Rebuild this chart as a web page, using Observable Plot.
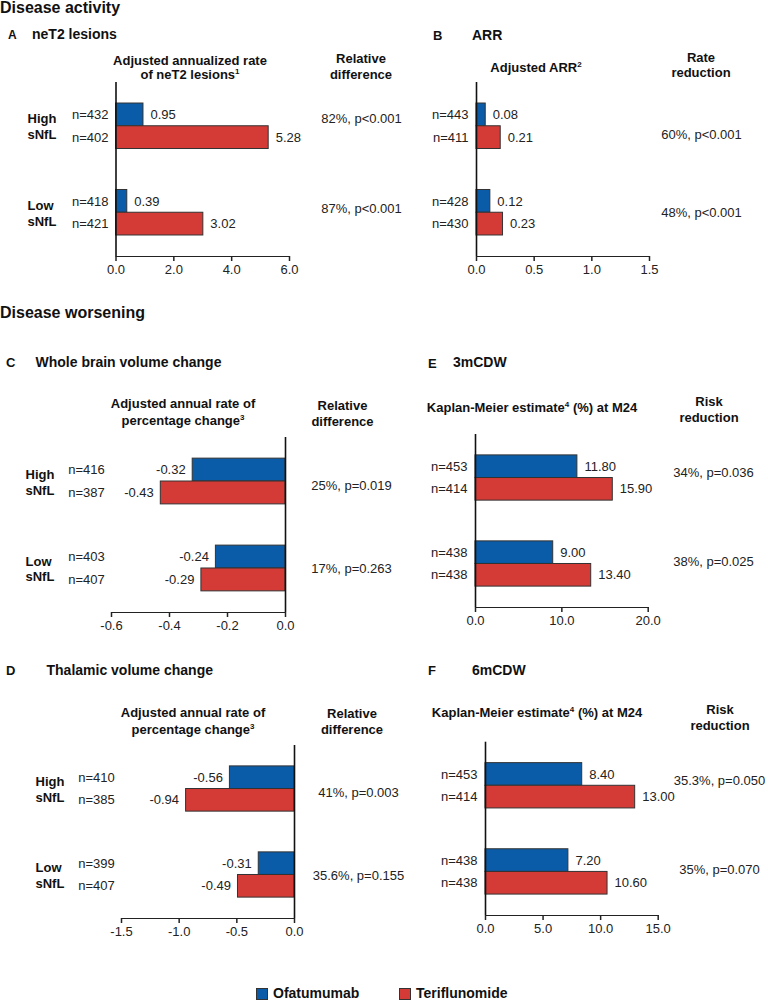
<!DOCTYPE html>
<html>
<head>
<meta charset="utf-8">
<script src="https://cdn.jsdelivr.net/npm/d3@7"></script>
<script src="https://cdn.jsdelivr.net/npm/@observablehq/plot@0.6"></script>
<style>
  html, body { margin: 0; padding: 0; background: #fff; }
  #root { position: relative; width: 768px; height: 1001px; overflow: hidden; font-family: "Liberation Sans", Arial, sans-serif; color: #111; }
  .lbl { position: absolute; white-space: nowrap; transform: translate(-50%, -50%); line-height: 1; }
  .lbl.left { transform: translate(0, -50%); }
  .pan { position: absolute; }
  sup { font-size: 8px; vertical-align: 0; position: relative; top: -5px; }
  svg g[aria-label*="x-axis"] path, svg g[aria-label*="x-axis"] line { stroke-width: 1.5px; }
</style>
</head>
<body>
<div id="root"></div>
<script>
// ---------- data ----------
const groups = ["High sNfL", "Low sNfL"];
const treatments = ["Ofatumumab", "Teriflunomide"];
const treatmentColors = ["#0a5ca8", "#d43a36"];

// A: neT2 lesions
const neT2Ofa = [0.95, 0.39];
const neT2Teri = [5.28, 3.02];
const neT2NOfa = [432, 418];
const neT2NTeri = [402, 421];
const neT2Stats = ["82%, p<0.001", "87%, p<0.001"];
const neT2Ticks = [0, 2, 4, 6];

// B: ARR
const arrOfa = [0.08, 0.12];
const arrTeri = [0.21, 0.23];
const arrNOfa = [443, 428];
const arrNTeri = [411, 430];
const arrStats = ["60%, p<0.001", "48%, p<0.001"];
const arrTicks = [0, 0.5, 1.0, 1.5];

// C: whole brain volume change
const wbOfa = [-0.32, -0.24];
const wbTeri = [-0.43, -0.29];
const wbNOfa = [416, 403];
const wbNTeri = [387, 407];
const wbStats = ["25%, p=0.019", "17%, p=0.263"];
const wbTicks = [-0.6, -0.4, -0.2, 0];

// E: 3mCDW
const cdw3Ofa = [11.80, 9.00];
const cdw3Teri = [15.90, 13.40];
const cdw3NOfa = [453, 438];
const cdw3NTeri = [414, 438];
const cdw3Stats = ["34%, p=0.036", "38%, p=0.025"];
const cdw3Ticks = [0, 10, 20];

// D: thalamic volume change
const thOfa = [-0.56, -0.31];
const thTeri = [-0.94, -0.49];
const thNOfa = [410, 399];
const thNTeri = [385, 407];
const thStats = ["41%, p=0.003", "35.6%, p=0.155"];
const thTicks = [-1.5, -1.0, -0.5, 0];

// F: 6mCDW
const cdw6Ofa = [8.40, 7.20];
const cdw6Teri = [13.00, 10.60];
const cdw6NOfa = [453, 438];
const cdw6NTeri = [414, 438];
const cdw6Stats = ["35.3%, p=0.050", "35%, p=0.070"];
const cdw6Ticks = [0, 5, 10, 15];

// ---------- layout ----------
const root = document.getElementById("root");
const FONT = '"Liberation Sans", Arial, sans-serif';
const PI = 0.474, PO = 0.243;

function label(html, x, y, size, weight, align) {
  const d = document.createElement("div");
  d.className = "lbl" + (align === "left" ? " left" : "");
  d.style.left = x + "px";
  d.style.top = y + "px";
  d.style.fontSize = size + "px";
  d.style.fontWeight = weight || "normal";
  d.innerHTML = html;
  root.appendChild(d);
  return d;
}

function panel(p) {
  const mt = p.top - p.T, mb = p.T + p.H - p.bottom;
  const ml = p.x0 - p.L, mr = p.L + p.W - p.x1;
  const fh = p.bottom - p.top;
  const bw = d3.scaleBand().domain(groups).range([0, fh]).paddingInner(PI).paddingOuter(PO).bandwidth();
  const half = bw / 2, q = bw / 4;
  const neg = p.ticks[0] < 0;
  const rows = groups.map((g, i) => ({
    group: g, ofa: p.ofa[i], teri: p.teri[i], nOfa: p.nOfa[i], nTeri: p.nTeri[i], stat: p.stats[i]
  }));
  const txt = {fill: "#222", fontSize: 13};
  const marks = [
    Plot.barX(rows, {y: "group", x: "ofa", fill: () => treatments[0], stroke: "#333", strokeWidth: 1, insetBottom: half}),
    Plot.barX(rows, {y: "group", x: "teri", fill: () => treatments[1], stroke: "#333", strokeWidth: 1, insetTop: half}),
    Plot.ruleX([0], {stroke: "#111", strokeWidth: 1.6}),
    Plot.text(rows, {...txt, y: "group", x: "ofa", dy: -q, dx: neg ? -7 : 7, textAnchor: neg ? "end" : "start", text: d => d.ofa.toFixed(2)}),
    Plot.text(rows, {...txt, y: "group", x: "teri", dy: q, dx: neg ? -7 : 7, textAnchor: neg ? "end" : "start", text: d => d.teri.toFixed(2)}),
    Plot.text(rows, {...txt, y: "group", frameAnchor: "left", dx: p.nX - p.x0, dy: -q, textAnchor: p.nAnchor, text: d => "n=" + d.nOfa}),
    Plot.text(rows, {...txt, y: "group", frameAnchor: "left", dx: p.nX - p.x0, dy: q, textAnchor: p.nAnchor, text: d => "n=" + d.nTeri}),
    Plot.text([rows[0]], {...txt, y: "group", frameAnchor: "right", dx: p.statX - p.x1, dy: p.statDy[0], textAnchor: "middle", text: "stat"}),
    Plot.text([rows[1]], {...txt, y: "group", frameAnchor: "right", dx: p.statX - p.x1, dy: p.statDy[1], textAnchor: "middle", text: "stat"})
  ];
  if (p.groupX != null) {
    marks.push(Plot.text(rows, {y: "group", frameAnchor: "left", dx: p.groupX - p.x0, textAnchor: "start",
      fontWeight: "bold", fontSize: 13, fill: "#111", lineHeight: 1.22, text: d => d.group.replace(" ", "\n")}));
  }
  const svg = Plot.plot({
    width: p.W, height: p.H,
    marginTop: mt, marginBottom: mb, marginLeft: ml, marginRight: mr,
    style: {background: "transparent", overflow: "visible", fontFamily: FONT, fontSize: "13px", color: "#222"},
    x: {domain: [p.ticks[0], p.ticks[p.ticks.length - 1]], ticks: p.ticks, tickFormat: d => d.toFixed(1),
        tickSize: 5, tickPadding: 3, line: true, label: null},
    y: {domain: groups, axis: null, paddingInner: PI, paddingOuter: PO, round: false},
    color: {domain: treatments, range: treatmentColors},
    marks
  });
  const wrap = document.createElement("div");
  wrap.className = "pan";
  wrap.style.left = p.L + "px";
  wrap.style.top = p.T + "px";
  wrap.appendChild(svg);
  root.appendChild(wrap);
}

panel({L: 0, T: 40, W: 408, H: 250, x0: 115.5, x1: 289, top: 82, bottom: 256,
  ofa: neT2Ofa, teri: neT2Teri, nOfa: neT2NOfa, nTeri: neT2NTeri, stats: neT2Stats, ticks: neT2Ticks,
  nX: 108, nAnchor: "end", groupX: 27, statX: 361, statDy: [-7, -4]});
panel({L: 408, T: 40, W: 360, H: 250, x0: 476, x1: 649, top: 82, bottom: 256,
  ofa: arrOfa, teri: arrTeri, nOfa: arrNOfa, nTeri: arrNTeri, stats: arrStats, ticks: arrTicks,
  nX: 468, nAnchor: "end", groupX: null, statX: 701, statDy: [9, 0]});
panel({L: 0, T: 395, W: 408, H: 250, x0: 111, x1: 285, top: 437, bottom: 612,
  ofa: wbOfa, teri: wbTeri, nOfa: wbNOfa, nTeri: wbNTeri, stats: wbStats, ticks: wbTicks,
  nX: 67.7, nAnchor: "start", groupX: 25, statX: 351, statDy: [4, 0]});
panel({L: 408, T: 395, W: 360, H: 250, x0: 475, x1: 647.7, top: 434, bottom: 607,
  ofa: cdw3Ofa, teri: cdw3Teri, nOfa: cdw3NOfa, nTeri: cdw3NTeri, stats: cdw3Stats, ticks: cdw3Ticks,
  nX: 467, nAnchor: "end", groupX: null, statX: 713, statDy: [-5, -2]});
panel({L: 0, T: 700, W: 408, H: 260, x0: 121, x1: 294, top: 745, bottom: 918,
  ofa: thOfa, teri: thTeri, nOfa: thNOfa, nTeri: thNTeri, stats: thStats, ticks: thTicks,
  nX: 77.7, nAnchor: "start", groupX: 35, statX: 358, statDy: [4, 1]});
panel({L: 408, T: 700, W: 360, H: 260, x0: 485, x1: 657.7, top: 741.7, bottom: 915,
  ofa: cdw6Ofa, teri: cdw6Teri, nOfa: cdw6NOfa, nTeri: cdw6NTeri, stats: cdw6Stats, ticks: cdw6Ticks,
  nX: 477, nAnchor: "end", groupX: null, statX: 719, statDy: [-5, -2]});

// ---------- titles & headers ----------
label("Disease activity", 0, 8, 16, "bold", "left");
label("Disease worsening", 0, 313, 16, "bold", "left");

label("A", 8, 35, 12, "bold", "left");
label("neT2 lesions", 32, 34, 14, "bold", "left");
label("B", 433, 35, 13, "bold", "left");
label("ARR", 472, 35, 14, "bold", "left");
label("C", 6, 362, 13, "bold", "left");
label("Whole brain volume change", 35.5, 362, 14, "bold", "left");
label("E", 428, 363, 13, "bold", "left");
label("3mCDW", 453, 362, 14, "bold", "left");
label("D", 6, 670, 13, "bold", "left");
label("Thalamic volume change", 46.5, 670, 14, "bold", "left");
label("F", 428, 670, 13, "bold", "left");
label("6mCDW", 472, 670, 14, "bold", "left");

// column headers
label("Adjusted annualized rate", 190, 60, 13, "bold");
label("of neT2 lesions<sup>1</sup>", 190, 74, 13, "bold");
label("Relative", 361, 58, 13, "bold");
label("difference", 361, 74, 13, "bold");

label("Adjusted ARR<sup>2</sup>", 536, 67, 13, "bold");
label("Rate", 701, 57, 13, "bold");
label("reduction", 701, 72, 13, "bold");

label("Adjusted annual rate of", 183, 403, 13, "bold");
label("percentage change<sup>3</sup>", 183, 419.5, 13, "bold");
label("Relative", 342.5, 405, 13, "bold");
label("difference", 342.5, 421, 13, "bold");

label("Kaplan-Meier estimate<sup>4</sup> (%) at M24", 532, 407, 13, "bold");
label("Risk", 709, 401, 13, "bold");
label("reduction", 709, 417, 13, "bold");

label("Adjusted annual rate of", 193, 712, 13, "bold");
label("percentage change<sup>3</sup>", 193, 728.5, 13, "bold");
label("Relative", 352, 713, 13, "bold");
label("difference", 352, 729, 13, "bold");

label("Kaplan-Meier estimate<sup>4</sup> (%) at M24", 537, 712, 13, "bold");
label("Risk", 720, 709, 13, "bold");
label("reduction", 720, 725, 13, "bold");

// ---------- legend ----------
const legendX = [256, 399];
treatments.forEach((t, i) => {
  const sq = document.createElement("div");
  sq.style.cssText = `position:absolute;left:${legendX[i]}px;top:988px;width:10px;height:10px;background:${treatmentColors[i]};border:1px solid #333;`;
  root.appendChild(sq);
  label(t, legendX[i] + 17, 992.5, 14, "bold", "left");
});
</script>
</body>
</html>
